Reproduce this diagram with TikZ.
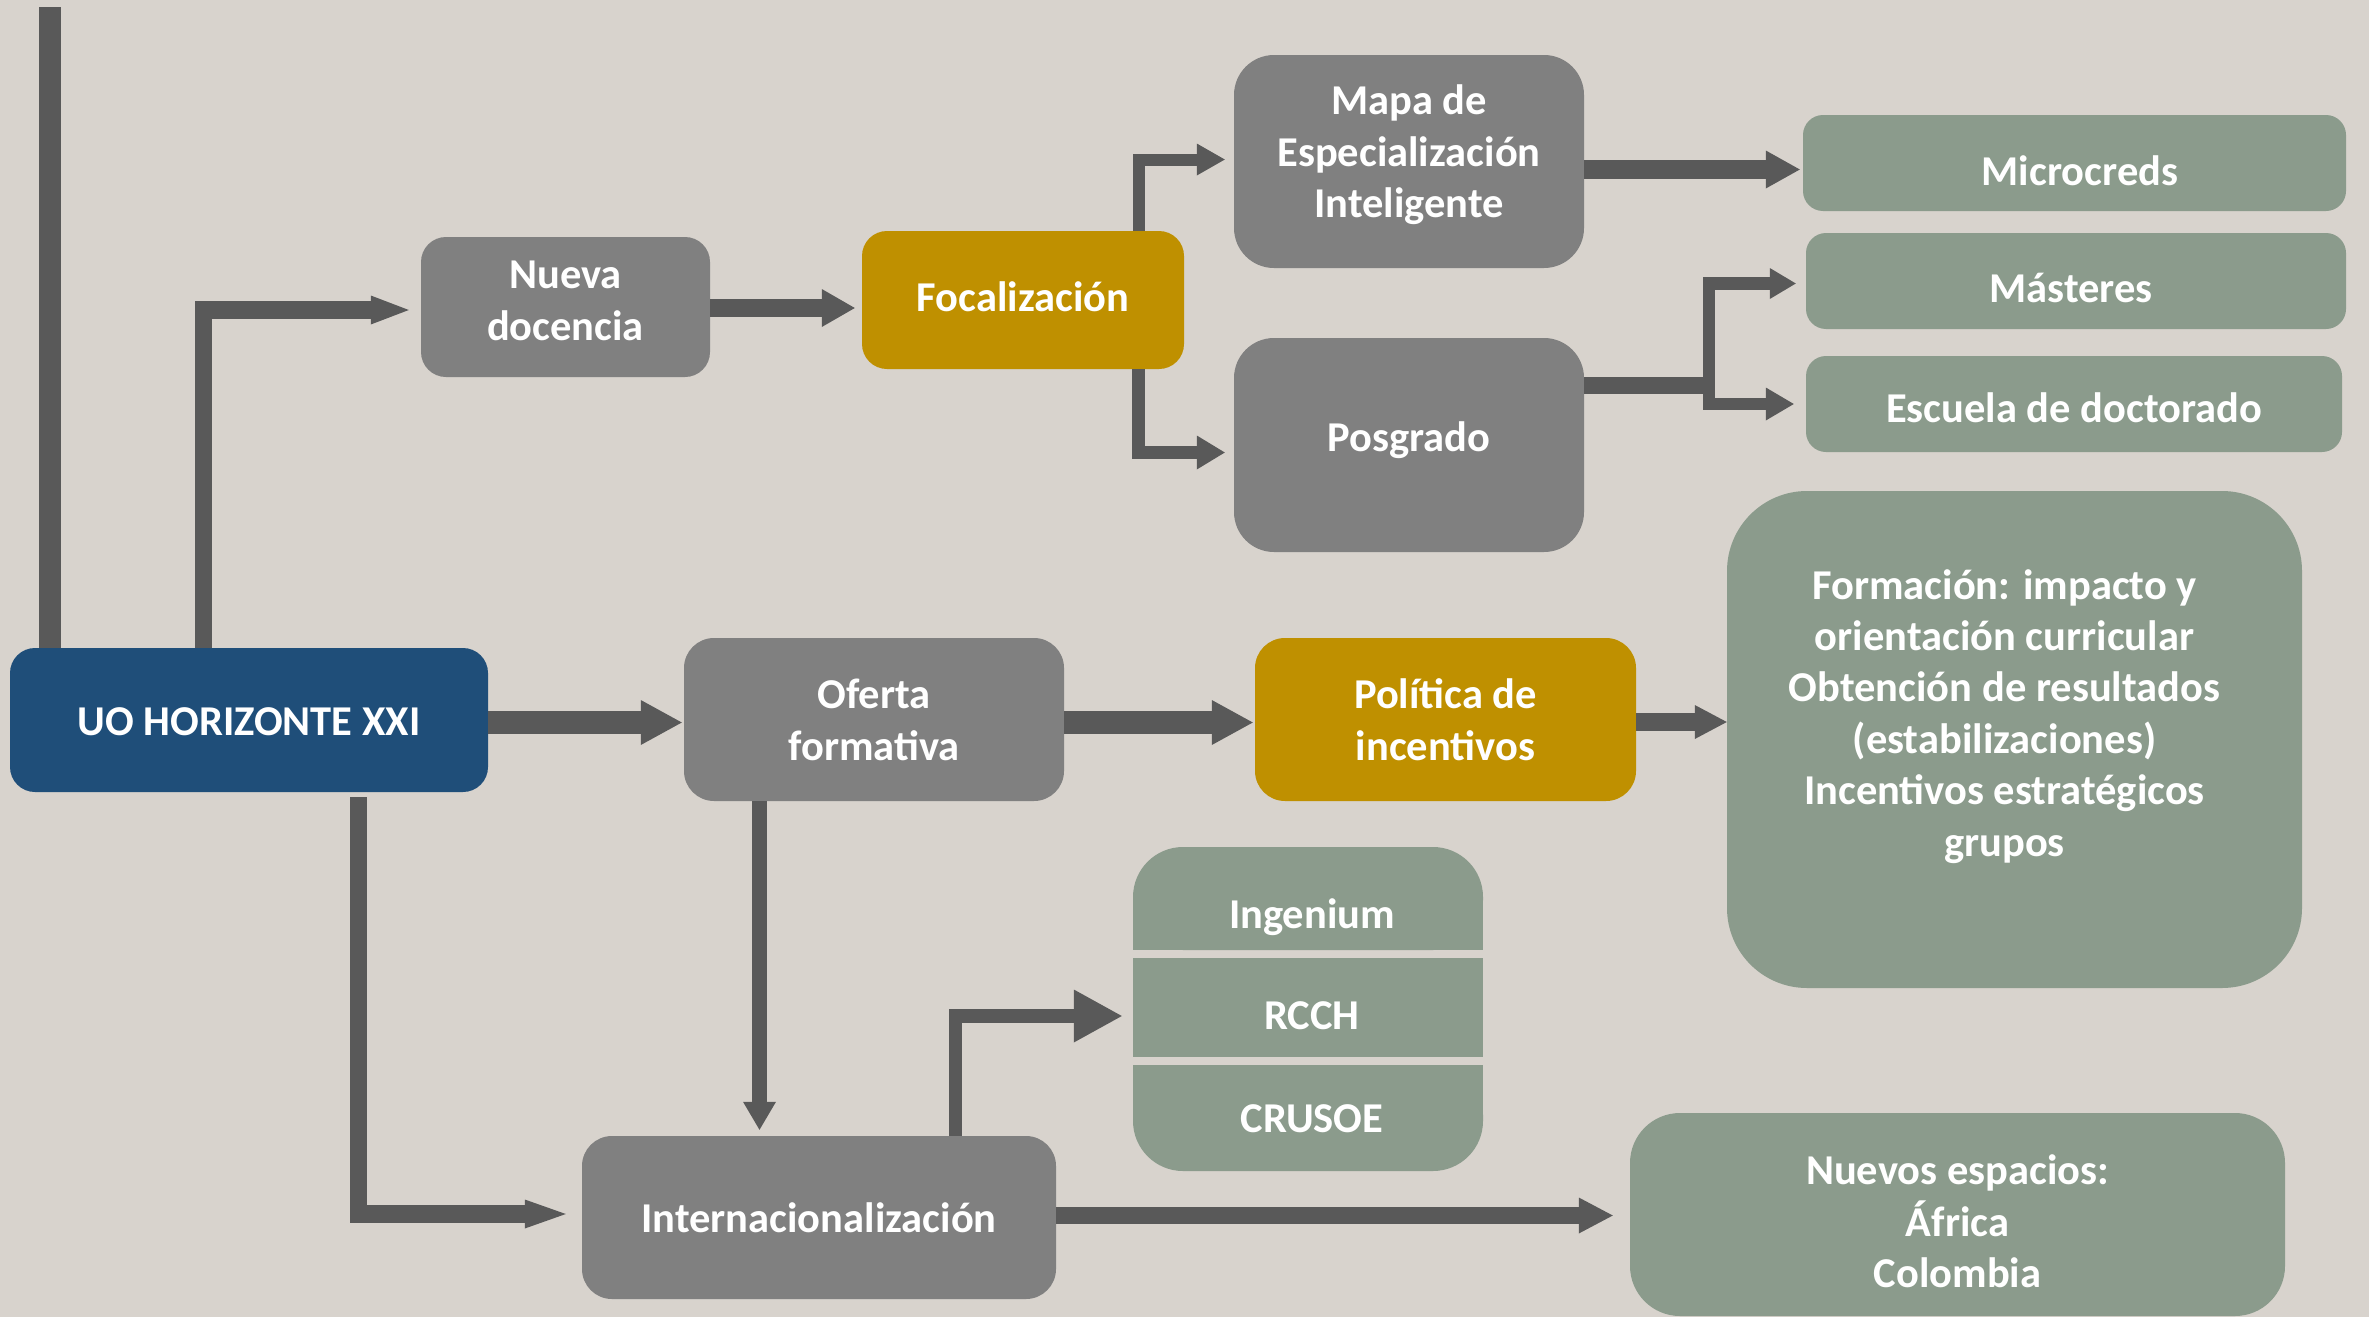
\documentclass[tikz,border=0pt]{standalone}
\usepackage{fontspec}
\setmainfont{Carlito}
\usetikzlibrary{arrows.meta,calc,backgrounds}
\definecolor{bgc}{RGB}{216,211,205}
\definecolor{arrowgray}{RGB}{89,89,89}
\definecolor{boxgray}{RGB}{128,128,128}
\definecolor{goldc}{RGB}{191,144,0}
\definecolor{navy}{RGB}{31,78,121}
\definecolor{sage}{RGB}{139,155,140}
\tikzset{
  basetxt/.style={inner sep=0pt, text=white, align=center, font=\fontsize{42.5}{51.4}\selectfont\bfseries},
  box/.style n args={4}{basetxt, fill=#1, rounded corners=#2, minimum width=#3, minimum height=#4},
  tb/.style 2 args={text height=#1, text depth=#2},
  arr/.style n args={3}{draw=arrowgray, line width=#1, -{Triangle[length=#2, width=#3, line width=0pt]}},
  bar/.style={draw=arrowgray, line width=#1},
}
\begin{document}
\begin{tikzpicture}[x=1pt, y=-1pt]
\useasboundingbox (0,0) rectangle (2369,1317);
% boxes
\node[box={navy}{25pt}{478pt}{144pt}, tb={41pt}{10pt}] (uo) at (249,720) {UO HORIZONTE XXI};
\node[box={boxgray}{25pt}{289pt}{140pt}, tb={76pt}{10pt}] (nueva) at (565.5,307) {Nueva\\docencia};
\node[box={goldc}{25pt}{322pt}{138pt}, tb={32pt}{10pt}] (focal) at (1023,300) {Focalización};
\node[box={boxgray}{40pt}{350pt}{213pt}, tb={122pt}{10pt}] (mapa) at (1409,161.5) {Mapa de\\Especialización\\Inteligente};
\node[box={boxgray}{40pt}{350pt}{214pt}, tb={22pt}{10pt}] (posgrado) at (1409,445) {Posgrado};
\node[box={sage}{20pt}{543pt}{96pt}, tb={54pt}{10pt}] (micro) at (2074.5,163) {\hspace*{11pt}Microcreds};
\node[box={sage}{20pt}{540pt}{96pt}, tb={52pt}{10pt}] (masteres) at (2076,281) {Másteres\hspace*{10pt}};
\node[box={sage}{20pt}{536pt}{96pt}, tb={46pt}{10pt}] (escuela) at (2074,404) {Escuela de doctorado};
\node[box={boxgray}{30pt}{380pt}{163pt}, tb={91pt}{10pt}] (oferta) at (874,719.5) {Oferta\\formativa};
\node[box={goldc}{30pt}{381pt}{163pt}, tb={91pt}{10pt}] (politica) at (1445.5,719.5) {Política de\\incentivos};
\node[box={sage}{80pt}{575pt}{497pt}, tb={243pt}{10pt}] (formacion) at (2014.5,739.5) {\begin{tabular}[b]{@{}c@{}}Formación: impacto y\\orientación curricular\\Obtención de resultados\\(estabilizaciones)\\Incentivos estratégicos\\grupos\end{tabular}\hspace*{20pt}};
\node[box={boxgray}{30pt}{474pt}{163pt}, tb={39pt}{10pt}] (intern) at (819,1217.5) {Internacionalización};
\node[box={sage}{50pt}{350pt}{103pt}, tb={69pt}{10pt}] (ing) at (1308,898.5) {\hspace*{8pt}Ingenium};
\node[box={sage}{0pt}{350pt}{99pt}, tb={53pt}{10pt}] (rcch) at (1308,1007.5) {\hspace*{8pt}RCCH};
\node[box={sage}{50pt}{350pt}{106pt}, tb={38pt}{10pt}] (crusoe) at (1308,1118) {\hspace*{8pt}CRUSOE};
\node[box={sage}{50pt}{655pt}{203pt}, tb={156pt}{10pt}] (nuevos) at (1957.5,1214.5) {Nuevos espacios:\\África\\Colombia};
\begin{scope}[on background layer]
  \fill[bgc] (0,0) rectangle (2369,1317);
  \fill[sage] (ing.west) rectangle (ing.south east);
  \fill[sage] (crusoe.north west) rectangle (crusoe.east);
\end{scope}
% helper coordinates
\coordinate (topend) at (50,7);
\coordinate (v1) at (203.5,0);
\coordinate (v2) at (1138.5,0);
\coordinate (jn) at (1709,385.5);
\coordinate (v4) at (358.5,0);
\coordinate (v5) at (759.5,0);
\coordinate (v6) at (955.5,0);
% connectors
\draw[bar=22pt] (topend |- uo.north) -- (topend);
\draw[arr={17.5pt}{38pt}{29pt}] (v1 |- uo.north) |- ($(nueva.west)+(-12,3)$);
\draw[arr={18pt}{33pt}{38pt}] ($(nueva.east)+(0,1)$) -- ($(focal.west)+(-7,8)$);
\draw[arr={12pt}{28pt}{32pt}] (v2 |- focal.north) |- ($(mapa.west)+(-9,-2)$);
\draw[arr={13pt}{28pt}{34pt}] (v2 |- focal.south) |- ($(posgrado.west)+(-9,7.5)$);
\draw[arr={19pt}{34pt}{38pt}] ($(mapa.east)+(0,8)$) -- ($(micro.west)+(-3,6.5)$);
\draw[bar=17pt] (posgrado.east |- jn) -- ($(jn)+(6,0)$);
\draw[arr={12.5pt}{26pt}{31pt}] (jn) |- ($(masteres.west)+(-10,2.5)$);
\draw[arr={12.5pt}{28pt}{33pt}] (jn) |- ($(escuela.west)+(-12,0)$);
\draw[arr={23pt}{41pt}{45pt}] ($(uo.east)+(0,2.5)$) -- ($(oferta.west)+(-2,3)$);
\draw[arr={23pt}{41pt}{45pt}] ($(oferta.east)+(0,3)$) -- ($(politica.west)+(-2,3)$);
\draw[arr={18pt}{32pt}{34pt}] ($(politica.east)+(0,2.5)$) -- ($(formacion.west)+(0,-17.5)$);
\draw[arr={17.5pt}{41pt}{29pt}] ($(v4 |- uo.south)+(0,5)$) |- ($(intern.west)+(-16,-3.5)$);
\draw[arr={15pt}{28pt}{33pt}] (v5 |- oferta.south) -- ($(v5 |- intern.north)+(0,-6)$);
\draw[arr={13.5pt}{48pt}{53pt}] (v6 |- intern.north) |- ($(rcch.west)+(-11,8.5)$);
\draw[arr={17pt}{34pt}{36pt}] ($(intern.east)+(0,-2)$) -- ($(nuevos.west)+(-17,1)$);
\end{tikzpicture}
\end{document}
